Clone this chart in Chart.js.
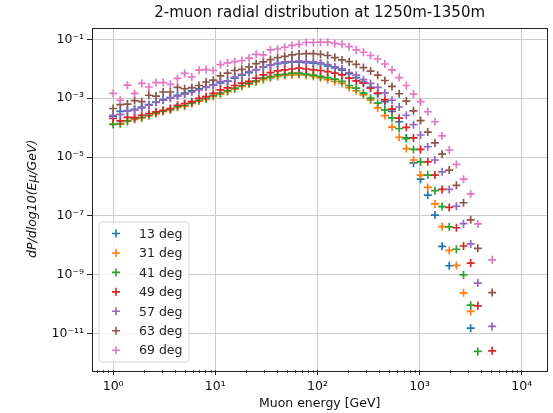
<!DOCTYPE html>
<html>
<head>
<meta charset="utf-8">
<script src="https://cdn.jsdelivr.net/npm/chart.js@4/dist/chart.umd.min.js"></script>
<style>
  html, body { margin: 0; padding: 0; background: #fff; }
</style>
</head>
<body>
<canvas id="myChart" width="553" height="413"></canvas>
<script>
// muon energy bins [GeV]
var energy = [1, 1.175, 1.380, 1.622, 1.905, 2.239, 2.630, 3.090, 3.631, 4.266,
  5.012, 5.888, 6.918, 8.128, 9.550, 11.22, 13.18, 15.49, 18.20, 21.38,
  25.12, 29.51, 34.67, 40.74, 47.86, 56.23, 66.07, 77.62, 91.20, 107.2,
  125.9, 147.9, 173.8, 204.2, 239.9, 281.8, 331.1, 389.0, 457.1, 537.0,
  631.0, 741.3, 871.0, 1023, 1202, 1413, 1660, 1950, 2291, 2692,
  3162, 3715, 4365, 5129];

// log10 of dP/dlog10(E) per zenith angle (null = no point)
var deg13 = [-3.62,-3.45,-3.42,-3.38,-3.30,-3.22,-3.13,-3.05,-2.98,-2.90,
  -2.83,-2.75,-2.68,-2.62,-2.55,-2.48,-2.42,-2.32,-2.22,-2.13,
  -2.03,-1.95,-1.88,-1.83,-1.80,-1.78,-1.78,-1.79,-1.81,-1.84,
  -1.90,-1.97,-2.05,-2.17,-2.30,-2.45,-2.63,-2.85,-3.12,-3.45,
  -3.80,-4.35,-5.20,-5.75,-6.29,-6.97,-8.03,-8.69,null,null,
  -10.81,null,null,null];
var deg31 = [-3.88,-3.88,-3.79,-3.72,-3.67,-3.60,-3.53,-3.45,-3.40,-3.31,
  -3.27,-3.18,-3.10,-3.03,-2.94,-2.86,-2.78,-2.69,-2.60,-2.52,
  -2.45,-2.37,-2.31,-2.26,-2.23,-2.21,-2.20,-2.22,-2.26,-2.31,
  -2.37,-2.43,-2.50,-2.64,-2.75,-2.89,-3.06,-3.33,-3.59,-3.98,
  -4.33,-4.71,-5.10,-5.61,-6.03,-6.59,-7.36,-8.17,-8.68,-9.61,
  -10.24,null,null,null];
var deg41 = [-3.89,-3.86,-3.77,-3.69,-3.65,-3.58,-3.50,-3.43,-3.38,-3.29,
  -3.24,-3.16,-3.07,-3.01,-2.91,-2.83,-2.75,-2.66,-2.57,-2.49,
  -2.41,-2.32,-2.27,-2.21,-2.19,-2.15,-2.15,-2.18,-2.22,-2.26,
  -2.30,-2.35,-2.43,-2.57,-2.66,-2.83,-3.00,-3.17,-3.40,-3.67,
  -4.03,-4.37,-4.74,-5.16,-5.61,-6.14,-6.68,-7.37,-8.13,-9.00,
  -10.03,-11.60,null,null];
var deg49 = [-3.69,-3.77,-3.65,-3.66,-3.58,-3.52,-3.46,-3.41,-3.35,-3.24,
  -3.18,-3.12,-3.01,-2.95,-2.84,-2.72,-2.65,-2.57,-2.49,-2.43,
  -2.32,-2.21,-2.13,-2.07,-2.04,-2.01,-1.98,-2.01,-2.04,-2.06,
  -2.10,-2.15,-2.21,-2.32,-2.41,-2.49,-2.66,-2.83,-3.06,-3.37,
  -3.68,-3.99,-4.35,-4.74,-5.16,-5.61,-6.10,-6.71,-7.40,-8.02,
  -8.60,-10.05,null,-11.58];
var deg57 = [-3.58,-3.55,-3.43,-3.40,-3.33,-3.24,-3.14,-3.07,-3.00,-2.93,
  -2.86,-2.79,-2.72,-2.63,-2.56,-2.44,-2.41,-2.28,-2.19,-2.10,
  -2.04,-1.94,-1.88,-1.82,-1.77,-1.76,-1.74,-1.76,-1.77,-1.80,
  -1.86,-1.94,-2.00,-2.13,-2.22,-2.37,-2.50,-2.63,-2.82,-3.07,
  -3.30,-3.58,-3.90,-4.25,-4.65,-5.10,-5.50,-6.10,-6.67,-7.26,
  -7.95,-9.28,null,-10.75];
var deg63 = [-3.35,-3.22,-3.20,-3.08,-3.12,-2.90,-2.93,-2.79,-2.79,-2.63,
  -2.68,-2.64,-2.57,-2.45,-2.39,-2.24,-2.15,-2.06,-2.02,-1.94,
  -1.83,-1.77,-1.69,-1.62,-1.58,-1.53,-1.50,-1.49,-1.49,-1.51,
  -1.55,-1.62,-1.70,-1.76,-1.85,-1.96,-2.08,-2.22,-2.40,-2.60,
  -2.85,-3.10,-3.43,-3.76,-4.15,-4.52,-4.90,-5.44,-5.96,-6.55,
  -7.13,-8.10,null,-9.60];
var deg69 = [-2.84,-3.07,-2.56,-2.84,-2.50,-2.62,-2.47,-2.47,-2.53,-2.33,
  -2.16,-2.28,-2.05,-2.03,-2.06,-1.86,-1.80,-1.76,-1.72,-1.64,
  -1.51,-1.53,-1.36,-1.33,-1.27,-1.21,-1.17,-1.11,-1.11,-1.10,
  -1.10,-1.14,-1.17,-1.25,-1.36,-1.44,-1.55,-1.67,-1.84,-2.04,
  -2.30,-2.57,-2.86,-3.12,-3.46,-3.80,-4.28,-4.76,-5.25,-5.75,
  -6.25,-7.27,null,-8.49];

var labels = ['13 deg', '31 deg', '41 deg', '49 deg', '57 deg', '63 deg', '69 deg'];
var colors = ['#1f77b4', '#ff7f0e', '#2ca02c', '#d62728', '#9467bd', '#8c564b', '#e377c2'];
var series = [deg13, deg31, deg41, deg49, deg57, deg63, deg69];

var xTicks = [1, 10, 100, 1000, 10000];
var yTickExp = [-1, -3, -5, -7, -9, -11];

var FONT = "'DejaVu Sans', sans-serif";
var sup = {'-': '\u207b', '0': '\u2070', '1': '\u00b9', '2': '\u00b2', '3': '\u00b3',
  '4': '\u2074', '5': '\u2075', '6': '\u2076', '7': '\u2077', '8': '\u2078', '9': '\u2079'};
function powLabel(v) {
  var e = Math.round(Math.log10(v));
  return '10' + String(e).split('').map(function (ch) { return sup[ch]; }).join('');
}

function points(arr) {
  var out = [];
  arr.forEach(function (v, i) {
    if (v !== null) out.push({x: energy[i], y: Math.pow(10, v)});
  });
  return out;
}

var datasets = series.map(function (arr, k) {
  return {
    label: labels[k],
    data: points(arr),
    borderColor: colors[k],
    backgroundColor: colors[k],
    pointStyle: 'cross',
    pointRadius: 4,
    pointHoverRadius: 4,
    borderWidth: 1.7,
    order: series.length - k
  };
});

// frame, minor x ticks and the boxed legend inside the axes
var mplExtras = {
  id: 'mplExtras',
  afterDraw: function (chart) {
    var c = chart.ctx, a = chart.chartArea, xs = chart.scales.x;
    c.save();
    // minor ticks on x
    c.strokeStyle = '#222';
    c.lineWidth = 0.8;
    c.beginPath();
    for (var d = -1; d <= 4; d++) {
      for (var m = 2; m <= 9; m++) {
        var v = m * Math.pow(10, d);
        if (v < xs.min || v > xs.max) continue;
        var px = Math.round(xs.getPixelForValue(v)) + 0.5;
        c.moveTo(px, a.bottom);
        c.lineTo(px, a.bottom + 3);
      }
    }
    c.stroke();
    // axes frame
    c.strokeStyle = '#222';
    c.lineWidth = 1;
    c.strokeRect(Math.round(a.left) + 0.5, Math.round(a.top) + 0.5,
      Math.round(a.right - a.left), Math.round(a.bottom - a.top));
    // legend box
    var bx = a.left + 7, by = a.bottom - 148, bw = 90, bh = 140, r = 3;
    c.beginPath();
    c.moveTo(bx + r, by);
    c.arcTo(bx + bw, by, bx + bw, by + bh, r);
    c.arcTo(bx + bw, by + bh, bx, by + bh, r);
    c.arcTo(bx, by + bh, bx, by, r);
    c.arcTo(bx, by, bx + bw, by, r);
    c.closePath();
    c.fillStyle = 'rgba(255,255,255,0.8)';
    c.fill();
    c.strokeStyle = '#d6d6d6';
    c.lineWidth = 1;
    c.stroke();
    c.font = '12.5px ' + FONT;
    c.textBaseline = 'middle';
    c.textAlign = 'left';
    labels.forEach(function (lab, k) {
      var ly = by + 11.5 + k * 19.45;
      var lx = bx + 17;
      c.strokeStyle = colors[k];
      c.lineWidth = 1.6;
      c.beginPath();
      c.moveTo(lx - 4, ly); c.lineTo(lx + 4, ly);
      c.moveTo(lx, ly - 4); c.lineTo(lx, ly + 4);
      c.stroke();
      c.fillStyle = '#222';
      c.fillText(lab, bx + 40, ly + 1);
    });
    c.restore();
  }
};

var ctx = document.getElementById('myChart').getContext('2d');
var myChart = new Chart(ctx, {
  type: 'scatter',
  data: { datasets: datasets },
  plugins: [mplExtras],
  options: {
    responsive: false,
    devicePixelRatio: 1,
    animation: false,
    events: [],
    layout: { padding: { left: 0, right: 5, top: 0, bottom: 0 } },
    plugins: {
      legend: { display: false },
      tooltip: { enabled: false },
      title: {
        display: true,
        fullSize: false,
        text: '2-muon radial distribution at 1250m-1350m',
        color: '#111',
        font: { family: FONT, size: 15, weight: 'normal' },
        padding: { top: 4.5, bottom: 5 }
      }
    },
    scales: {
      x: {
        type: 'logarithmic',
        min: 0.621,
        max: 17780,
        bounds: 'data',
        afterBuildTicks: function (scale) {
          scale.ticks = xTicks.map(function (v) { return {value: v, major: true}; });
        },
        afterFit: function (scale) { scale.height = 43; },
        grid: { color: '#cccccc', lineWidth: 1, tickColor: '#222', tickLength: 5 },
        border: { display: false },
        ticks: {
          autoSkip: false, maxRotation: 0, color: '#111', padding: 4,
          font: { family: FONT, size: 12.5 },
          callback: function (v) { return powLabel(v); }
        },
        title: {
          display: true, text: 'Muon energy [GeV]', color: '#111',
          font: { family: FONT, size: 12.5 },
          padding: { top: 0, bottom: 1.5 }
        }
      },
      y: {
        type: 'logarithmic',
        min: Math.pow(10, -12.23),
        max: Math.pow(10, -0.60),
        bounds: 'data',
        afterBuildTicks: function (scale) {
          scale.ticks = yTickExp.map(function (e) { return {value: Math.pow(10, e), major: true}; });
        },
        afterFit: function (scale) { scale.width = 92; },
        grid: { color: '#cccccc', lineWidth: 1, tickColor: '#222', tickLength: 5 },
        border: { display: false },
        ticks: {
          autoSkip: false, color: '#111', padding: 3,
          font: { family: FONT, size: 12.5 },
          callback: function (v) { return powLabel(v); }
        },
        title: {
          display: true, text: 'dP/dlog10(E\u03bc/GeV)', color: '#111',
          font: { family: FONT, size: 12.5, style: 'italic' },
          padding: { top: 25.5, bottom: 0 }
        }
      }
    }
  }
});
</script>
</body>
</html>
